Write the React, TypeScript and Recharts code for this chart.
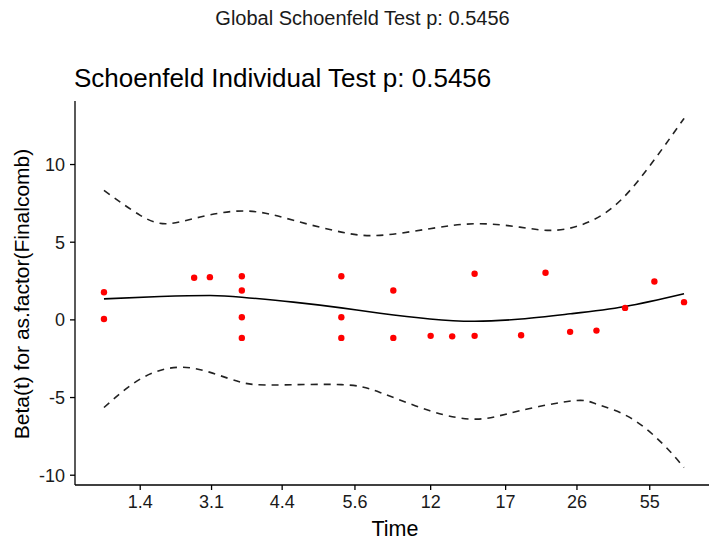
import React from 'react';
import { ComposedChart, Line, Scatter, XAxis, YAxis } from 'recharts';

// x values are on the plot's transformed-time scale; each tick is labelled with the time it stands for
const timeTickPositions = [1, 1.98, 2.95, 3.95, 4.99, 6.02, 7.0, 8];
const timeTickLabels = ['1.4', '3.1', '4.4', '5.6', '12', '17', '26', '55'];
const betaTicks = [-10, -5, 0, 5, 10];

const residualX = [0.502, 0.502, 1.741, 1.957, 2.396, 2.396, 2.396, 2.396, 3.763, 3.763, 3.763, 4.477, 4.477, 4.99, 5.286, 5.594, 5.594, 6.233, 6.568, 6.906, 7.268, 7.661, 8.064, 8.471];
const residualY = [1.78, 0.06, 2.71, 2.75, 2.81, 1.89, 0.17, -1.16, 2.81, 0.17, -1.16, 1.89, -1.16, -1.03, -1.06, 2.97, -1.03, -0.99, 3.03, -0.77, -0.69, 0.77, 2.47, 1.14];

const fitX = [0.502, 1.274, 1.961, 2.396, 3.104, 3.763, 4.294, 4.98, 5.594, 6.233, 6.906, 7.661, 8.471];
const fitY = [1.35, 1.5, 1.57, 1.46, 1.14, 0.77, 0.43, 0.06, -0.09, 0.06, 0.39, 0.86, 1.68];

const upperX = [0.502, 1.0, 1.366, 1.824, 2.464, 3.104, 3.763, 4.294, 4.98, 5.621, 6.215, 6.627, 7.039, 7.496, 7.954, 8.471];
const upperY = [8.34, 6.73, 6.19, 6.62, 7.01, 6.41, 5.65, 5.44, 5.87, 6.19, 5.97, 5.76, 6.08, 7.26, 9.63, 12.97];

const lowerX = [0.502, 1.0, 1.504, 1.961, 2.396, 2.876, 3.763, 4.294, 4.98, 5.621, 6.215, 6.947, 7.268, 7.725, 8.182, 8.471];
const lowerY = [-5.64, -3.81, -3.06, -3.38, -4.03, -4.19, -4.17, -4.67, -5.85, -6.39, -5.85, -5.21, -5.42, -6.28, -8.0, -9.51];

const zip = (xs: number[], ys: number[]) => xs.map((x, i) => ({ x, y: ys[i] }));
const residuals = zip(residualX, residualY);
const fit = zip(fitX, fitY);
const upper = zip(upperX, upperY);
const lower = zip(lowerX, lowerY);

const FONT = '"Liberation Sans", Arial, Helvetica, sans-serif';

export default function App() {
  return (
    <div style={{ position: 'absolute', left: 0, top: 0, width: 709, height: 541, overflow: 'hidden', background: '#fff', fontFamily: FONT }}>
      <ComposedChart width={720} height={541} margin={{ top: 101, right: 7, bottom: 0, left: 0 }}>
        <XAxis
          dataKey="x"
          type="number"
          domain={[0.104, 8.869]}
          ticks={timeTickPositions}
          tickFormatter={(v: number) => timeTickLabels[timeTickPositions.indexOf(v)] ?? ''}
          allowDataOverflow
          height={56}
          stroke="#000"
          strokeWidth={1.3}
          tickSize={5}
          tickMargin={5}
          tick={{ fill: '#1a1a1a', fontSize: 18, fontFamily: FONT }}
        />
        <YAxis
          dataKey="y"
          type="number"
          domain={[-10.63, 14.09]}
          ticks={betaTicks}
          allowDataOverflow
          width={75}
          stroke="#000"
          strokeWidth={1.3}
          tickSize={5}
          tickMargin={5}
          tick={{ fill: '#1a1a1a', fontSize: 18, fontFamily: FONT }}
        />
        <Line data={upper} dataKey="y" type="natural" stroke="#222" strokeWidth={1.6} strokeDasharray="7 6" dot={false} activeDot={false} isAnimationActive={false} />
        <Line data={lower} dataKey="y" type="natural" stroke="#222" strokeWidth={1.6} strokeDasharray="7 6" dot={false} activeDot={false} isAnimationActive={false} />
        <Line data={fit} dataKey="y" type="natural" stroke="#000" strokeWidth={1.6} dot={false} activeDot={false} isAnimationActive={false} />
        <Scatter data={residuals} dataKey="y" fill="#ff0000" shape={(p: any) => <circle cx={p.cx} cy={p.cy} r={3.2} fill="#ff0000" />} isAnimationActive={false} />
      </ComposedChart>
      <div style={{ position: 'absolute', left: 0, width: 725, top: 6, textAlign: 'center', fontSize: 20, color: '#1a1a1a', lineHeight: '24px', whiteSpace: 'nowrap' }}>
        Global Schoenfeld Test p: 0.5456
      </div>
      <div style={{ position: 'absolute', left: 74, top: 63, fontSize: 26, color: '#000', lineHeight: '30px', whiteSpace: 'nowrap' }}>
        Schoenfeld Individual Test p: 0.5456
      </div>
      <div style={{ position: 'absolute', left: 295, width: 200, top: 516, textAlign: 'center', fontSize: 21.5, color: '#000', lineHeight: '26px' }}>
        Time
      </div>
      <svg style={{ position: 'absolute', left: 0, top: 0 }} width={45} height={541}>
        <text x={0} y={0} transform="translate(29,294) rotate(-90)" textAnchor="middle" fontSize={21} fill="#000" fontFamily={FONT}>
          Beta(t) for as.factor(Finalcomb)
        </text>
      </svg>
    </div>
  );
}
